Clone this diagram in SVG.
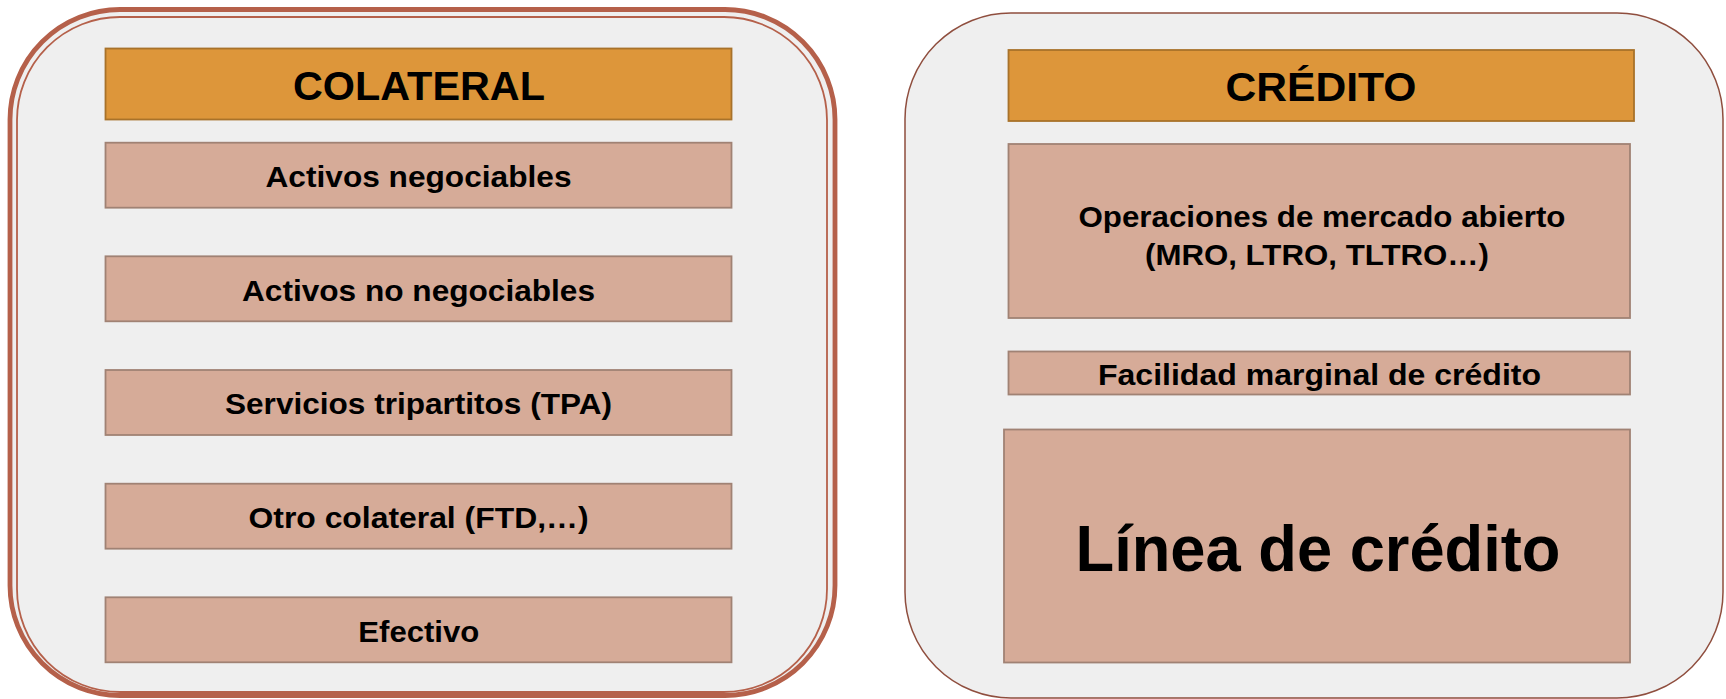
<svg xmlns="http://www.w3.org/2000/svg" width="1726" height="699" viewBox="0 0 1726 699">
  <style>
    .panel { fill: #efefef; }
    .frame-outer { fill: none; stroke: #b5604a; stroke-width: 4.8; }
    .frame-inner { fill: none; stroke: #b5604a; stroke-width: 1.8; }
    .frame-thin { fill: #efefef; stroke: #8f4e3e; stroke-width: 1.5; }
    .head { fill: #dd963a; stroke: #a8722a; stroke-width: 1.8; }
    .item { fill: #d6ab98; stroke: #a08274; stroke-width: 1.8; }
    text { font-family: "Liberation Sans", Arial, Helvetica, sans-serif; font-weight: bold; fill: #000; text-anchor: middle; }
    .t-head { font-size: 41px; }
    .t-item { font-size: 30px; }
    .t-big { font-size: 64px; }
  </style>

  <!-- Left panel: collateral, double rounded frame -->
  <g id="panel-colateral">
    <rect class="panel" x="10" y="9.5" width="825" height="686" rx="110" ry="110"/>
    <rect class="frame-outer" x="10" y="9.5" width="825" height="686" rx="110" ry="110"/>
    <rect class="frame-inner" x="17" y="17" width="810" height="675" rx="103" ry="103"/>
  </g>

  <g id="colateral-header">
    <rect class="head" x="105.5" y="48.5" width="626" height="71"/>
    <text class="t-head" x="419" y="100" textLength="252" lengthAdjust="spacingAndGlyphs">COLATERAL</text>
  </g>

  <g id="activos-negociables">
    <rect class="item" x="105.5" y="142.7" width="626" height="65"/>
    <text class="t-item" x="418.5" y="186.5" textLength="306" lengthAdjust="spacingAndGlyphs">Activos negociables</text>
  </g>

  <g id="activos-no-negociables">
    <rect class="item" x="105.5" y="256.3" width="626" height="65"/>
    <text class="t-item" x="418.5" y="300.5" textLength="353" lengthAdjust="spacingAndGlyphs">Activos no negociables</text>
  </g>

  <g id="servicios-tripartitos">
    <rect class="item" x="105.5" y="370" width="626" height="65"/>
    <text class="t-item" x="418.5" y="414" textLength="387" lengthAdjust="spacingAndGlyphs">Servicios tripartitos (TPA)</text>
  </g>

  <g id="otro-colateral">
    <rect class="item" x="105.5" y="483.7" width="626" height="65"/>
    <text class="t-item" x="418.5" y="528" textLength="340" lengthAdjust="spacingAndGlyphs">Otro colateral (FTD,…)</text>
  </g>

  <g id="efectivo">
    <rect class="item" x="105.5" y="597.3" width="626" height="65"/>
    <text class="t-item" x="418.8" y="641.5" textLength="121" lengthAdjust="spacingAndGlyphs">Efectivo</text>
  </g>

  <!-- Right panel: credit, single thin rounded frame -->
  <g id="panel-credito">
    <rect class="frame-thin" x="905" y="13" width="818" height="685" rx="106" ry="106"/>
  </g>

  <g id="credito-header">
    <rect class="head" x="1008.5" y="50" width="625.5" height="71"/>
    <text class="t-head" x="1321" y="101" textLength="191" lengthAdjust="spacingAndGlyphs">CRÉDITO</text>
  </g>

  <g id="operaciones-mercado-abierto">
    <rect class="item" x="1008.5" y="144" width="621.5" height="174"/>
    <text class="t-item" x="1322" y="226.5" textLength="487" lengthAdjust="spacingAndGlyphs">Operaciones de mercado abierto</text>
    <text class="t-item" x="1317" y="265" textLength="344" lengthAdjust="spacingAndGlyphs">(MRO, LTRO, TLTRO…)</text>
  </g>

  <g id="facilidad-marginal">
    <rect class="item" x="1008.5" y="351.5" width="621.5" height="43"/>
    <text class="t-item" x="1319.5" y="385" textLength="443" lengthAdjust="spacingAndGlyphs">Facilidad marginal de crédito</text>
  </g>

  <g id="linea-credito">
    <rect class="item" x="1004" y="429.5" width="626" height="233"/>
    <text class="t-big" x="1318" y="571" textLength="485" lengthAdjust="spacingAndGlyphs">Línea de crédito</text>
  </g>

  <!-- No connectors in this layout -->
  <g id="connectors"/>
</svg>
